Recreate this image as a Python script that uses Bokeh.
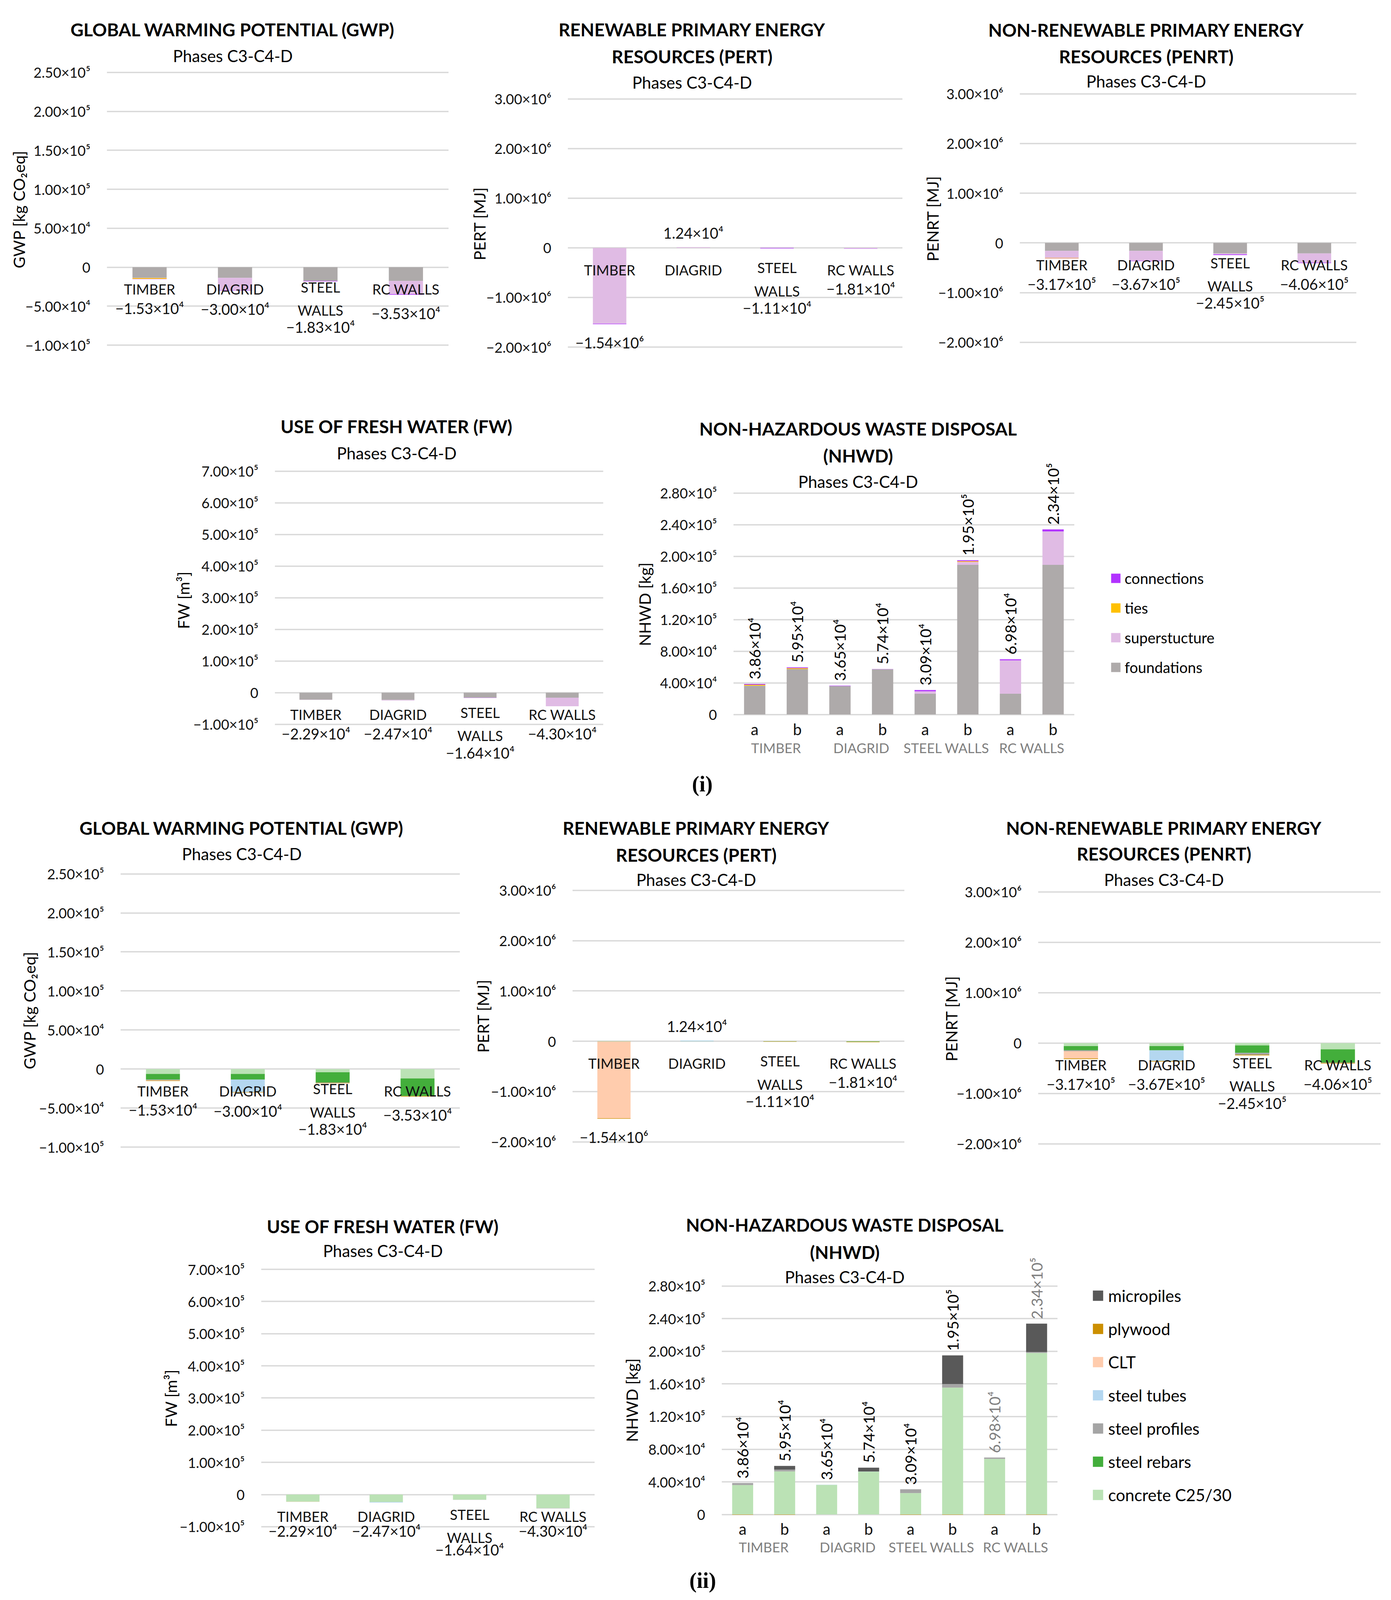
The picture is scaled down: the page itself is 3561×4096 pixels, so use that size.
import math
from bokeh.plotting import figure
from bokeh.models import (FactorRange, Range1d, FixedTicker, Label, Legend,
                          LegendItem, ColumnDataSource, Spacer)
from bokeh.layouts import row, column
from bokeh.embed import file_html
from bokeh.resources import INLINE
from bokeh.core.properties import value

# ======================= DATA =======================
CATEGORIES = ["TIMBER", "DIAGRID", "STEEL WALLS", "RC WALLS"]
VARIANTS = ["a", "b"]

GWP_TICKS = [250000, 200000, 150000, 100000, 50000, 0, -50000, -100000]
GWP_TICK_LABELS = ["2.50×10⁵", "2.00×10⁵", "1.50×10⁵", "1.00×10⁵", "5.00×10⁴", "0", "−5.00×10⁴", "−1.00×10⁵"]
PE_TICKS = [3000000, 2000000, 1000000, 0, -1000000, -2000000]
PE_TICK_LABELS = ["3.00×10⁶", "2.00×10⁶", "1.00×10⁶", "0", "−1.00×10⁶", "−2.00×10⁶"]
FW_TICKS = [700000, 600000, 500000, 400000, 300000, 200000, 100000, 0, -100000]
FW_TICK_LABELS = ["7.00×10⁵", "6.00×10⁵", "5.00×10⁵", "4.00×10⁵", "3.00×10⁵", "2.00×10⁵", "1.00×10⁵", "0", "−1.00×10⁵"]
NHWD_TICKS = [280000, 240000, 200000, 160000, 120000, 80000, 40000, 0]
NHWD_TICK_LABELS = ["2.80×10⁵", "2.40×10⁵", "2.00×10⁵", "1.60×10⁵", "1.20×10⁵", "8.00×10⁴", "4.00×10⁴", "0"]

GWP_VALUE_LABELS = ["−1.53×10⁴", "−3.00×10⁴", "−1.83×10⁴", "−3.53×10⁴"]
PERT_VALUE_LABELS = ["−1.54×10⁶", "1.24×10⁴", "−1.11×10⁴", "−1.81×10⁴"]
PENRT_I_VALUE_LABELS = ["−3.17×10⁵", "−3.67×10⁵", "−2.45×10⁵", "−4.06×10⁵"]
PENRT_II_VALUE_LABELS = ["−3.17×10⁵", "−3.67E×10⁵", "−2.45×10⁵", "−4.06×10⁵"]
FW_VALUE_LABELS = ["−2.29×10⁴", "−2.47×10⁴", "−1.64×10⁴", "−4.30×10⁴"]
NHWD_VALUE_LABELS = ["3.86×10⁴", "5.95×10⁴", "3.65×10⁴", "5.74×10⁴", "3.09×10⁴", "1.95×10⁵", "6.98×10⁴", "2.34×10⁵"]

# ---- (i) by structural part (stacking order: foundations, superstucture, ties, connections)
GWP_I_FOUNDATIONS = [-13600, -13600, -17600, -17600]
GWP_I_SUPERSTUCTURE = [-200, -16000, 0, -17000]
GWP_I_TIES = [-1200, 0, 0, 0]
GWP_I_CONNECTIONS = [-300, -400, -700, -700]

PERT_I_FOUNDATIONS = [-2000, -2000, -2000, -2000]
PERT_I_SUPERSTUCTURE = [-1528000, 14400, 0, -12000]
PERT_I_TIES = [0, 0, 0, 0]
PERT_I_CONNECTIONS = [-10000, 0, -9100, -4100]

PENRT_I_FOUNDATIONS = [-160000, -160000, -212000, -212000]
PENRT_I_SUPERSTUCTURE = [-142000, -200000, -20000, -184000]
PENRT_I_TIES = [-10000, 0, 0, 0]
PENRT_I_CONNECTIONS = [-5000, -7000, -13000, -10000]

FW_I_FOUNDATIONS = [-22500, -23000, -16000, -16000]
FW_I_SUPERSTUCTURE = [-400, -1700, 0, -27000]
FW_I_TIES = [0, 0, 0, 0]
FW_I_CONNECTIONS = [0, 0, -400, 0]

# NHWD bars: TIMBER a/b, DIAGRID a/b, STEEL WALLS a/b, RC WALLS a/b
NHWD_I_FOUNDATIONS = [36300, 57500, 36000, 57200, 26200, 189200, 26200, 189200]
NHWD_I_SUPERSTUCTURE = [100, 0, 0, 0, 3100, 3700, 42200, 42200]
NHWD_I_TIES = [1200, 1000, 0, 0, 0, 1000, 0, 0]
NHWD_I_CONNECTIONS = [1000, 1000, 500, 200, 1600, 1100, 1400, 2600]

# ---- (ii) by material (stacking order: concrete, rebars, profiles, tubes, CLT, plywood, micropiles)
GWP_II_CONCRETE = [-6300, -6300, -4200, -12000]
GWP_II_REBARS = [-7200, -7200, -13000, -22600]
GWP_II_PROFILES = [-900, 0, -600, 0]
GWP_II_TUBES = [0, -16000, 0, 0]
GWP_II_CLT = [-300, 0, 0, 0]
GWP_II_PLYWOOD = [-600, -500, -500, -700]
GWP_II_MICROPILES = [0, 0, 0, 0]

PERT_II_CONCRETE = [-2000, -2000, -2000, -4000]
PERT_II_REBARS = [-3000, -1000, -3000, -6000]
PERT_II_PROFILES = [0, 0, 0, 0]
PERT_II_TUBES = [0, 15400, 0, 0]
PERT_II_CLT = [-1525000, 0, 0, 0]
PERT_II_PLYWOOD = [-10000, 0, -6100, -8100]
PERT_II_MICROPILES = [0, 0, 0, 0]

PENRT_II_CONCRETE = [-60000, -60000, -46000, -124000]
PENRT_II_REBARS = [-83000, -83000, -147000, -262000]
PENRT_II_PROFILES = [-18000, 0, -37000, -8000]
PENRT_II_TUBES = [0, -212000, 0, 0]
PENRT_II_CLT = [-143000, 0, 0, 0]
PENRT_II_PLYWOOD = [-13000, -12000, -15000, -12000]
PENRT_II_MICROPILES = [0, 0, 0, 0]

FW_II_CONCRETE = [-22500, -23000, -16000, -42000]
FW_II_REBARS = [0, 0, 0, 0]
FW_II_PROFILES = [0, 0, -400, -1000]
FW_II_TUBES = [0, -1700, 0, 0]
FW_II_CLT = [-400, 0, 0, 0]
FW_II_PLYWOOD = [0, 0, 0, 0]
FW_II_MICROPILES = [0, 0, 0, 0]

NHWD_II_CONCRETE = [36100, 52800, 36300, 52600, 26200, 155600, 68200, 198000]
NHWD_II_REBARS = [0, 0, 0, 0, 0, 0, 0, 0]
NHWD_II_PROFILES = [2500, 2200, 0, 0, 4700, 4400, 1600, 1200]
NHWD_II_TUBES = [0, 0, 200, 100, 0, 0, 0, 0]
NHWD_II_CLT = [0, 0, 0, 0, 0, 0, 0, 0]
NHWD_II_PLYWOOD = [-300, -300, 0, 0, -300, -300, -300, -300]
NHWD_II_MICROPILES = [0, 4500, 0, 4700, 0, 35000, 0, 34800]

SERIES_I = ["foundations", "superstucture", "ties", "connections"]
SERIES_II = ["concrete C25/30", "steel rebars", "steel profiles", "steel tubes", "CLT", "plywood", "micropiles"]
LEGEND_I = ["connections", "ties", "superstucture", "foundations"]
LEGEND_II = ["micropiles", "plywood", "CLT", "steel tubes", "steel profiles", "steel rebars", "concrete C25/30"]

GWP_TITLE = ["GLOBAL WARMING POTENTIAL (GWP)"]
PERT_TITLE = ["RENEWABLE PRIMARY ENERGY", "RESOURCES (PERT)"]
PENRT_TITLE = ["NON-RENEWABLE PRIMARY ENERGY", "RESOURCES (PENRT)"]
FW_TITLE = ["USE OF FRESH WATER (FW)"]
NHWD_TITLE = ["NON-HAZARDOUS WASTE DISPOSAL", "(NHWD)"]
SUBTITLE = "Phases C3-C4-D"

# ======================= STYLE =======================
COLORS = {
    "foundations": "#AEAAAA", "superstucture": "#E0BBE4", "ties": "#FFC000", "connections": "#B232FF",
    "concrete C25/30": "#BBE2B5", "steel rebars": "#43AE3B", "steel profiles": "#A5A5A5",
    "steel tubes": "#B4D7F0", "CLT": "#FFCCAD", "plywood": "#CC8F00", "micropiles": "#595959",
}
NHWD_I_LABEL_COLORS = ["#000000"] * 8
NHWD_II_LABEL_COLORS = ["#000000"] * 6 + ["#7F7F7F"] * 2

K = 2.6126       # layout unit -> output px
END_X = 1356.5
END_Y = 1561.5
FONT = "Lato"
TITLE_PX, SUB_PX, TICK_PX, CAT_PX, VAL_PX, YLAB_PX = 46, 42, 36, 36, 38, 41
NVAL_PX, SUBCAT_PX, GROUP_PX = 39, 40, 35
TICK_STANDOFF = 42


def A(v):
    return v * K


def P(v):
    return int(round(A(v)))


def est_width(s, size):
    w = 0.0
    for ch in s:
        if ch in "⁰¹²³⁴⁵⁶⁷⁸⁹":
            w += 0.36
        elif ch == ".":
            w += 0.25
        else:
            w += 0.58
    return w * size


def stack(series_values):
    n = len(series_values[0])
    pos = [0.0] * n
    neg = [0.0] * n
    out = []
    for vals in series_values:
        b, t = [], []
        for i, v in enumerate(vals):
            if v >= 0:
                b.append(pos[i]); t.append(pos[i] + v); pos[i] += v
            else:
                b.append(neg[i]); t.append(neg[i] + v); neg[i] += v
        out.append((b, t))
    return out


def mk_label(x, y, text, size, bold=False, font=FONT):
    return Label(x=x, y=y, x_units="screen", y_units="screen", text=text,
                 text_font=font, text_font_size=f"{size}px",
                 text_font_style="bold" if bold else "normal",
                 text_align="center", text_baseline="middle", text_color="#000000")


def blank_fig(W, H):
    p = figure(width=W, height=H, x_range=Range1d(0, 1), y_range=Range1d(0, 1),
               toolbar_location=None, output_backend="svg", min_border=0,
               frame_align=False)
    p.xaxis.visible = False
    p.yaxis.visible = False
    p.xgrid.visible = False
    p.ygrid.visible = False
    p.outline_line_color = None
    p.background_fill_color = "white"
    p.border_fill_color = "white"
    return p


def title_items(sp, title_lines):
    items = [(sp["title_x"], ty, line, TITLE_PX, True) for line, ty in zip(title_lines, sp["title_y"])]
    items.append((sp["title_x"], sp["sub_y"], SUBTITLE, SUB_PX, False))
    return items


def header_fig(sp, items):
    W = P(sp["x1"]) - P(sp["x0"])
    H = P(sp["hy"]) - P(sp["y0"])
    p = blank_fig(W, H)
    for cx, cy, text, size, bold in items[:sp["hdr"]]:
        p.add_layout(mk_label(A(cx) - P(sp["x0"]), P(sp["hy"]) - A(cy), text, size, bold))
    return p


def chart_base(sp, x_range, ticks, tick_labels, ylabel, items):
    W = P(sp["x1"]) - P(sp["x0"])
    H = P(sp["y1"]) - P(sp["hy"])
    left = P(sp["fx0"]) - P(sp["x0"])
    fw = P(sp["fx1"]) - P(sp["fx0"])
    right = W - left - fw
    ft = sp["ft"]
    fb = 2 * sp["ylab"][1] - ft           # frame centred on the axis title
    top = P(ft) - P(sp["hy"])
    bottom = P(sp["y1"]) - P(fb)
    Hf = P(fb) - P(ft)
    pa = A(sp["ta"]) - P(ft)
    pb = A(sp["tb"]) - P(ft)
    va, vb = ticks[0], ticks[-1]
    slope = (vb - va) / (pb - pa)
    y_end = va - pa * slope
    y_start = va + (Hf - pa) * slope
    p = figure(width=W, height=H, x_range=x_range, y_range=Range1d(y_start, y_end),
               output_backend="svg", toolbar_location=None,
               min_border_left=left, min_border_right=right,
               min_border_top=top, min_border_bottom=bottom, frame_align=False)
    p.outline_line_color = None
    p.background_fill_color = "white"
    p.border_fill_color = "white"
    p.xaxis.visible = False
    p.xgrid.visible = False
    tk = FixedTicker(ticks=ticks)
    p.yaxis.ticker = tk
    p.ygrid.ticker = tk
    p.ygrid.grid_line_color = "#D9D9D9"
    p.ygrid.grid_line_width = 3.5
    p.yaxis.major_label_overrides = {t: l for t, l in zip(ticks, tick_labels)}
    p.yaxis.axis_line_color = None
    p.yaxis.major_tick_line_color = None
    p.yaxis.minor_tick_line_color = None
    p.yaxis.major_tick_out = 0
    p.yaxis.major_tick_in = 0
    p.yaxis.minor_tick_out = 0
    p.yaxis.major_label_text_font = FONT
    p.yaxis.major_label_text_font_size = f"{TICK_PX}px"
    p.yaxis.major_label_text_color = "#111111"
    p.yaxis.major_label_standoff = TICK_STANDOFF
    # axis title
    maxw = max(est_width(l, TICK_PX) for l in tick_labels)
    dist = (sp["fx0"] - sp["ylab"][0]) * K
    p.yaxis.axis_label = ylabel
    p.yaxis.axis_label_text_font = FONT
    p.yaxis.axis_label_text_font_size = f"{YLAB_PX}px"
    p.yaxis.axis_label_text_font_style = "normal"
    p.yaxis.axis_label_text_color = "#000000"
    p.yaxis.axis_label_standoff = int(round(dist - TICK_STANDOFF - maxw - YLAB_PX * 0.6))
    # title lines / subtitle that sit inside the plotting frame
    for cx, cy, text, size, bold in items[sp["hdr"]:]:
        p.add_layout(mk_label(A(cx) - P(sp["fx0"]), P(fb) - A(cy), text, size, bold))
    unit_px = (pb - pa) / (va - vb)
    return p, unit_px, fb


def cat_panel(sp, series_names, series_values, value_labels, ticks, tick_labels, title_lines, ylabel):
    items = title_items(sp, title_lines)
    hdr = header_fig(sp, items)
    xr = FactorRange(factors=CATEGORIES, range_padding=0)
    p, unit_px, fb = chart_base(sp, xr, ticks, tick_labels, ylabel, items)
    stacked = stack(series_values)
    for name, (b, t) in zip(series_names, stacked):
        src = ColumnDataSource(dict(x=CATEGORIES, bottom=b, top=t))
        p.vbar(x="x", bottom="bottom", top="top", width=0.4, source=src,
               fill_color=COLORS[name], line_color=None)
    totals = [sum(v[i] for v in series_values) for i in range(len(CATEGORIES))]
    f0 = 21.5 * K
    pitch = 18.6 * K
    vgap = sp.get("vgap", 18.6) * K
    disp = [c.replace("STEEL WALLS", "STEEL\nWALLS") for c in CATEGORIES]
    nl = [d.count("\n") + 1 for d in disp]
    cat_off = [f0 + (n - 1) * pitch / 2 for n in nl]
    val_off = []
    for n, tot in zip(nl, totals):
        if tot >= 0:
            val_off.append(-(tot * unit_px + 14 * K))
        else:
            val_off.append(max(f0 + (n - 1) * pitch + vgap, -tot * unit_px + 18 * K))
    csrc = ColumnDataSource(dict(x=CATEGORIES, y=[0] * 4, text=disp, off=cat_off))
    p.text(x="x", y="y", text="text", y_offset="off", source=csrc,
           text_font=value(FONT), text_font_size=f"{CAT_PX}px", text_align="center",
           text_baseline="middle", text_line_height=pitch / CAT_PX, text_color="#111111")
    vsrc = ColumnDataSource(dict(x=CATEGORIES, y=[0] * 4, text=value_labels, off=val_off))
    p.text(x="x", y="y", text="text", y_offset="off", source=vsrc,
           text_font=value(FONT), text_font_size=f"{VAL_PX}px", text_align="center",
           text_baseline="middle", text_color="#111111")
    return column(hdr, p)


def nhwd_panel(sp, series_names, series_values, legend_order, label_colors, leg_px, glyph_px, standoff):
    items = title_items(sp, NHWD_TITLE)
    hdr = header_fig(sp, items)
    factors = [(c, v) for c in CATEGORIES for v in VARIANTS]
    xr = FactorRange(factors=factors, range_padding=0, group_padding=0,
                     subgroup_padding=0, factor_padding=0)
    p, unit_px, fb = chart_base(sp, xr, NHWD_TICKS, NHWD_TICK_LABELS, "NHWD [kg]", items)
    stacked = stack(series_values)
    rends = {}
    for name, (b, t) in zip(series_names, stacked):
        src = ColumnDataSource(dict(x=factors, bottom=b, top=t))
        rends[name] = p.vbar(x="x", bottom="bottom", top="top", width=0.5, source=src,
                             fill_color=COLORS[name], line_color=None)
    totals = [sum(v[i] for v in series_values) for i in range(len(factors))]
    vsrc = ColumnDataSource(dict(x=factors, y=totals, text=NHWD_VALUE_LABELS, c=label_colors))
    p.text(x="x", y="y", text="text", text_color="c", source=vsrc, angle=math.pi / 2,
           y_offset=-12, text_font=value(FONT), text_font_size=f"{NVAL_PX}px",
           text_align="left", text_baseline="middle")
    ssrc = ColumnDataSource(dict(x=factors, y=[0] * len(factors), text=[f[1] for f in factors]))
    p.text(x="x", y="y", text="text", source=ssrc, y_offset=sp["sub_off"] * K,
           text_font=value(FONT), text_font_size=f"{SUBCAT_PX}px", text_align="center",
           text_baseline="middle", text_color="#111111")
    gsrc = ColumnDataSource(dict(x=CATEGORIES, y=[0] * 4, text=CATEGORIES))
    p.text(x="x", y="y", text="text", source=gsrc, y_offset=sp["grp_off"] * K,
           text_font=value(FONT), text_font_size=f"{GROUP_PX}px", text_align="center",
           text_baseline="middle", text_color="#7F7F7F")
    # legend, in the right-hand side panel (which spans the frame height)
    item_h = round(leg_px * 1.2)
    n = len(legend_order)
    spacing = sp["leg_pitch"] * K - item_h
    box_top = A(sp["leg_y0"]) - item_h / 2
    box_h = n * item_h + (n - 1) * spacing
    vx = A(sp["leg_x"]) - 0.1 * glyph_px - P(sp["fx1"])
    vy = P(fb) - (box_top + box_h)
    legend = Legend(items=[LegendItem(label=nm, renderers=[rends[nm]]) for nm in legend_order],
                    location=(vx, vy), orientation="vertical",
                    border_line_color=None, background_fill_alpha=0,
                    label_text_font=FONT, label_text_font_size=f"{leg_px}px",
                    label_text_color="#000000",
                    glyph_width=glyph_px, glyph_height=glyph_px, label_height=item_h,
                    label_standoff=standoff, spacing=int(round(spacing)), padding=0, margin=0)
    p.add_layout(legend, "right")
    return column(hdr, p)


def tag_fig(y0, y1, cx, cy, text):
    W = P(END_X)
    H = P(y1) - P(y0)
    p = blank_fig(W, H)
    p.add_layout(mk_label(A(cx), P(y1) - A(cy), text, 56, True, font="Liberation Serif"))
    return p


# ======================= LAYOUT (layout units) =======================
# hdr: how many of (title lines..., subtitle) go in the header strip; hy: header bottom;
# ft: plotting-frame top; frame bottom is chosen so the frame is centred on the y-axis title
S_GWP1 = dict(x0=0, x1=455, y0=0, hy=41, ft=44.5, y1=385, fx0=104.6, fx1=439.6, ta=70.8, tb=338.0,
              hdr=1, ylab=(19, 205), title_x=228, title_y=[28.8], sub_y=54.6)
S_PERT1 = dict(x0=455, x1=900, y0=0, hy=66.5, ft=70, y1=385, fx0=556, fx1=884, ta=96.8, tb=339.9,
               hdr=2, ylab=(470, 219), title_x=678, title_y=[28.8, 55.3], sub_y=80.6)
S_PENRT1 = dict(x0=900, x1=END_X, y0=0, hy=66, ft=69, y1=385, fx0=999, fx1=1329, ta=91.7, tb=335.2,
                hdr=2, ylab=(914, 214), title_x=1123, title_y=[29, 55], sub_y=79.5)
S_FW1 = dict(x0=160, x1=610, y0=385, hy=428.5, ft=428.5, y1=752, fx0=269, fx1=591, ta=461.5, tb=709.5,
             hdr=1, ylab=(180, 588), title_x=388.5, title_y=[417.5], sub_y=444)
S_NHWD1 = dict(x0=610, x1=END_X, y0=385, hy=431.5, ft=433, y1=752, fx0=718.5, fx1=1052.7, ta=482.9, tb=699.9,
               hdr=1, ylab=(632, 592), title_x=840.7, title_y=[420, 446.3], sub_y=471.6,
               sub_off=14.4, grp_off=32.5, leg_x=1088.6, leg_y0=566.7, leg_pitch=29.0)
S_GWP2 = dict(x0=0, x1=460, y0=785, hy=846.5, ft=847, y1=1150, fx0=117.7, fx1=450.4, ta=856.1, tb=1123.8,
              hdr=2, ylab=(29, 989.7), title_x=236.8, title_y=[811.2], sub_y=836.5)
S_PERT2 = dict(x0=460, x1=915, y0=785, hy=849, ft=851, y1=1150, fx0=560.6, fx1=886, ta=872.2, tb=1118.7,
               hdr=2, ylab=(473.4, 995.5), title_x=682, title_y=[811.2, 837.6], sub_y=861.8)
S_PENRT2 = dict(x0=915, x1=END_X, y0=785, hy=848, ft=850, y1=1150, fx0=1016.9, fx1=1352.7, ta=873.8, tb=1120.6,
                hdr=2, ylab=(932.4, 997.8), title_x=1140.4, title_y=[811.2, 836.5], sub_y=861.8)
S_FW2 = dict(x0=150, x1=600, y0=1150, hy=1212, ft=1212, y1=1535, fx0=255.7, fx1=582.4, ta=1243.6, tb=1495.8,
             hdr=1, ylab=(167.7, 1370), title_x=375, title_y=[1201.4], sub_y=1225.5, vgap=14.0)
S_NHWD2 = dict(x0=600, x1=END_X, y0=1150, hy=1211, ft=1212, y1=1535, fx0=707, fx1=1036, ta=1260, tb=1483.8,
               hdr=1, ylab=(619.3, 1371.9), title_x=827.6, title_y=[1200, 1226.8], sub_y=1251,
               sub_off=14.0, grp_off=31.8, leg_x=1070.7, leg_y0=1270.3, leg_pitch=32.4)

gwp1 = cat_panel(S_GWP1, SERIES_I, [GWP_I_FOUNDATIONS, GWP_I_SUPERSTUCTURE, GWP_I_TIES, GWP_I_CONNECTIONS],
                 GWP_VALUE_LABELS, GWP_TICKS, GWP_TICK_LABELS, GWP_TITLE, "GWP [kg CO₂eq]")
pert1 = cat_panel(S_PERT1, SERIES_I, [PERT_I_FOUNDATIONS, PERT_I_SUPERSTUCTURE, PERT_I_TIES, PERT_I_CONNECTIONS],
                  PERT_VALUE_LABELS, PE_TICKS, PE_TICK_LABELS, PERT_TITLE, "PERT [MJ]")
penrt1 = cat_panel(S_PENRT1, SERIES_I, [PENRT_I_FOUNDATIONS, PENRT_I_SUPERSTUCTURE, PENRT_I_TIES, PENRT_I_CONNECTIONS],
                   PENRT_I_VALUE_LABELS, PE_TICKS, PE_TICK_LABELS, PENRT_TITLE, "PENRT [MJ]")
fw1 = cat_panel(S_FW1, SERIES_I, [FW_I_FOUNDATIONS, FW_I_SUPERSTUCTURE, FW_I_TIES, FW_I_CONNECTIONS],
                FW_VALUE_LABELS, FW_TICKS, FW_TICK_LABELS, FW_TITLE, "FW [m³]")
nhwd1 = nhwd_panel(S_NHWD1, SERIES_I, [NHWD_I_FOUNDATIONS, NHWD_I_SUPERSTUCTURE, NHWD_I_TIES, NHWD_I_CONNECTIONS],
                   LEGEND_I, NHWD_I_LABEL_COLORS, 38, 30, 8)

gwp2 = cat_panel(S_GWP2, SERIES_II, [GWP_II_CONCRETE, GWP_II_REBARS, GWP_II_PROFILES, GWP_II_TUBES,
                                     GWP_II_CLT, GWP_II_PLYWOOD, GWP_II_MICROPILES],
                 GWP_VALUE_LABELS, GWP_TICKS, GWP_TICK_LABELS, GWP_TITLE, "GWP [kg CO₂eq]")
pert2 = cat_panel(S_PERT2, SERIES_II, [PERT_II_CONCRETE, PERT_II_REBARS, PERT_II_PROFILES, PERT_II_TUBES,
                                       PERT_II_CLT, PERT_II_PLYWOOD, PERT_II_MICROPILES],
                  PERT_VALUE_LABELS, PE_TICKS, PE_TICK_LABELS, PERT_TITLE, "PERT [MJ]")
penrt2 = cat_panel(S_PENRT2, SERIES_II, [PENRT_II_CONCRETE, PENRT_II_REBARS, PENRT_II_PROFILES, PENRT_II_TUBES,
                                         PENRT_II_CLT, PENRT_II_PLYWOOD, PENRT_II_MICROPILES],
                   PENRT_II_VALUE_LABELS, PE_TICKS, PE_TICK_LABELS, PENRT_TITLE, "PENRT [MJ]")
fw2 = cat_panel(S_FW2, SERIES_II, [FW_II_CONCRETE, FW_II_REBARS, FW_II_PROFILES, FW_II_TUBES,
                                   FW_II_CLT, FW_II_PLYWOOD, FW_II_MICROPILES],
                FW_VALUE_LABELS, FW_TICKS, FW_TICK_LABELS, FW_TITLE, "FW [m³]")
nhwd2 = nhwd_panel(S_NHWD2, SERIES_II, [NHWD_II_CONCRETE, NHWD_II_REBARS, NHWD_II_PROFILES, NHWD_II_TUBES,
                                        NHWD_II_CLT, NHWD_II_PLYWOOD, NHWD_II_MICROPILES],
                   LEGEND_II, NHWD_II_LABEL_COLORS, 42, 33, 10)

tag_i = tag_fig(752, 785, 688, 768, "(i)")
tag_ii = tag_fig(1535, END_Y, 688.4, 1548.5, "(ii)")

layout = column(
    row(gwp1, pert1, penrt1),
    row(Spacer(width=P(160), height=P(752) - P(385)), fw1, nhwd1),
    tag_i,
    row(gwp2, pert2, penrt2),
    row(Spacer(width=P(150), height=P(1535) - P(1150)), fw2, nhwd2),
    tag_ii,
)

open("out.html", "w").write(file_html(layout, INLINE))
